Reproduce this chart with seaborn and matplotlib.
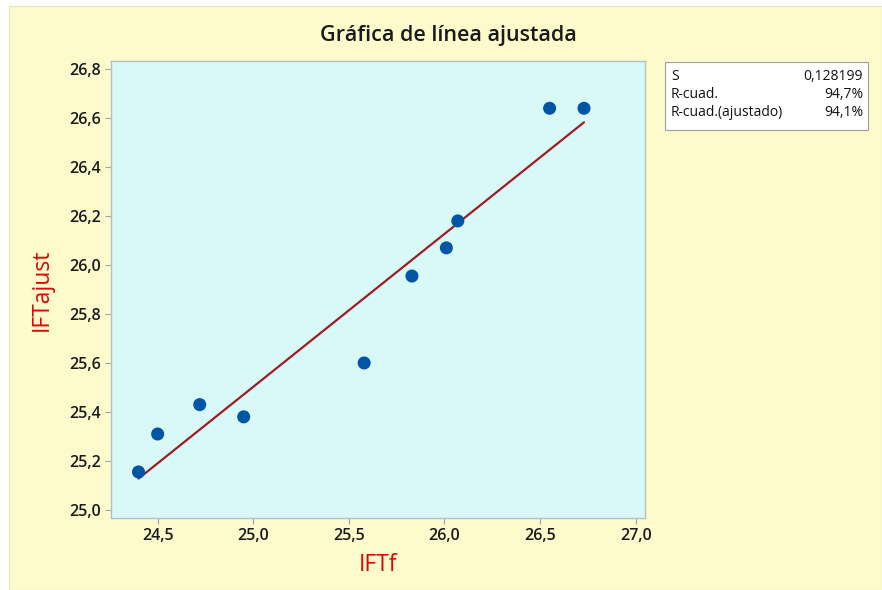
import matplotlib
matplotlib.use("Agg")
import matplotlib.pyplot as plt
import matplotlib.patches as mpatches
import numpy as np
import pandas as pd
import seaborn as sns

# Observed values
ift_f = [24.40, 24.50, 24.72, 24.95, 25.58, 25.83, 26.01, 26.07, 26.55, 26.73]
ift_ajust = [25.155, 25.31, 25.43, 25.38, 25.60, 25.955, 26.07, 26.18, 26.64, 26.64]

# Fit summary
stat_names = ["S", "R-cuad.", "R-cuad.(ajustado)"]
stat_values = ["0,128199", "94,7%", "94,1%"]

x_ticks = [24.5, 25.0, 25.5, 26.0, 26.5, 27.0]
y_ticks = [25.0, 25.2, 25.4, 25.6, 25.8, 26.0, 26.2, 26.4, 26.6, 26.8]

df = pd.DataFrame({"IFTf": ift_f, "IFTajust": ift_ajust})

sns.set_theme(style="white")
plt.rcParams["font.family"] = ["Open Sans", "DejaVu Sans"]

W, H = 882, 590
fig = plt.figure(figsize=(W / 100, H / 100), dpi=100, facecolor="white")

# Pale yellow panel behind the whole chart
fig.patches.append(mpatches.Rectangle((9 / W, 0), 1 - 9 / W, 1 - 6 / H,
                                      transform=fig.transFigure,
                                      facecolor="#FDFBCB", edgecolor="#E6E4C0",
                                      linewidth=0.8, zorder=-10))

ax = fig.add_axes([111 / W, 1 - 518 / H, (645 - 111) / W, (518 - 61) / H])
ax.set_facecolor("#D9F9F8")

sns.regplot(data=df, x="IFTf", y="IFTajust", ax=ax, ci=None,
            scatter_kws=dict(s=88, color="#0055A5", edgecolor="none", zorder=3, alpha=1),
            line_kws=dict(color="#A01E22", linewidth=1.6, zorder=2))

ax.set_xlim(24.256, 27.049)
ax.set_ylim(24.967, 26.833)
ax.set_xticks(x_ticks)
ax.set_yticks(y_ticks)
ax.set_xticklabels([f"{v:.1f}".replace(".", ",") for v in x_ticks])
ax.set_yticklabels([f"{v:.1f}".replace(".", ",") for v in y_ticks])
ax.tick_params(axis="both", which="major", direction="out", length=4, width=0.8,
               color="#9AA4AE", labelsize=11.5, labelcolor="#1A1A1A", pad=3,
               bottom=True, left=True)
for lab in ax.get_xticklabels() + ax.get_yticklabels():
    lab.set_fontweight("semibold")
for sp in ax.spines.values():
    sp.set_visible(True)
    sp.set_color("#B4BEC6")
    sp.set_linewidth(1.0)

ax.set_xlabel("IFTf", color="#D80808", fontsize=16.5, labelpad=7)
ax.set_ylabel("IFTajust", color="#D80808", fontsize=16.5, labelpad=11)

fig.text(0.508, 1 - 35 / H, "Gráfica de línea ajustada", ha="center", va="center",
         fontsize=15.5, fontweight="semibold", color="#1A1A1A")

# Summary box
bx0, by0, bx1, by1 = 665, 62, 868, 130
fig.patches.append(mpatches.Rectangle((bx0 / W, 1 - by1 / H), (bx1 - bx0) / W, (by1 - by0) / H,
                                      transform=fig.transFigure, facecolor="white",
                                      edgecolor="#A0A0A0", linewidth=0.8, zorder=1))
row_y = [76, 95, 113]
for name, val, yy in zip(stat_names, stat_values, row_y):
    fig.text(671 / W, 1 - yy / H, name, ha="left", va="center", fontsize=10, color="#111111")
    fig.text(863 / W, 1 - yy / H, val, ha="right", va="center", fontsize=10, color="#111111")

fig.savefig("out.png", dpi=100, facecolor="white")
